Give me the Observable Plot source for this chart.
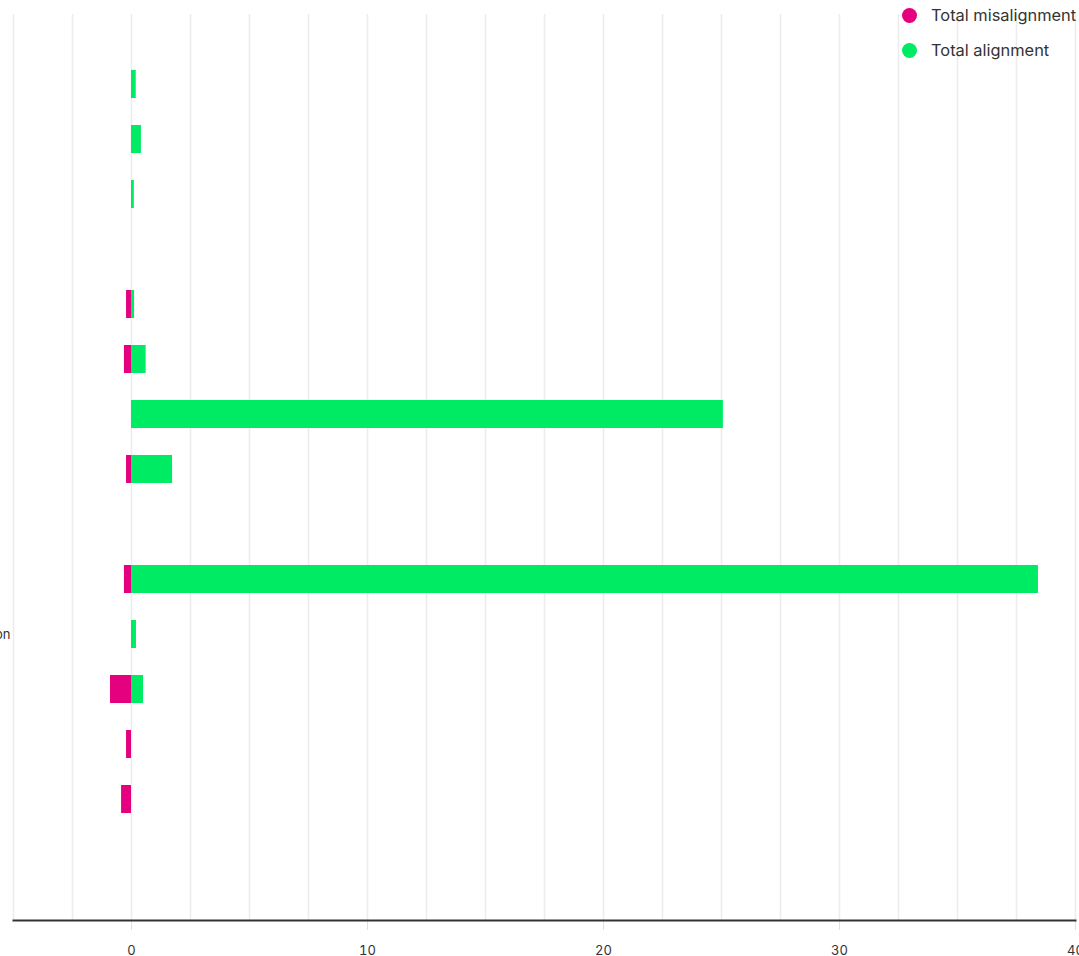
<!DOCTYPE html>
<html>
<head>
<meta charset="utf-8">
<script src="https://cdn.jsdelivr.net/npm/d3@7"></script>
<script src="https://cdn.jsdelivr.net/npm/@observablehq/plot@0.6"></script>
<style>
  html, body { margin: 0; padding: 0; background: #fff; }
  body { width: 1079px; height: 956px; overflow: hidden; position: relative; font-family: Inter, "Noto Sans", sans-serif; }
  #chart { position: absolute; left: 0; top: 0; }
  .legend { position: absolute; left: 902px; top: 0; font-size: 16.4px; color: #333; }
  .legend .item { position: absolute; left: 0; white-space: nowrap; display: flex; align-items: center; height: 20px; }
  .legend .dot { width: 15px; height: 15px; border-radius: 50%; margin-right: 14px; }
</style>
</head>
<body>
<div id="chart"></div>
<div class="legend">
  <div class="item" style="top:5px"><span class="dot" style="background:#e4007f"></span><span>Total misalignment</span></div>
  <div class="item" style="top:40px"><span class="dot" style="background:#00eb64"></span><span>Total alignment</span></div>
</div>
<script>
// Data
const categories = ["r1","r2","r3","r4","r5","r6","r7","r8","r9","r10","r11","r12","r13","r14"];
const visibleLabels = ["","","","","","","","","","","on","","",""];
const misalignment = [0, 0, 0, 0, -0.21, -0.3, 0, -0.21, 0, -0.3, 0, -0.89, -0.21, -0.42];
const alignment    = [0.2, 0.42, 0.12, 0, 0.13, 0.62, 25.08, 1.74, 0, 38.43, 0.21, 0.51, 0, 0];
const seriesNames = ["Total misalignment", "Total alignment"];
const seriesColors = ["#e4007f", "#00eb64"];
const gridTicks = d3.range(-5, 40.01, 2.5);
const labelTicks = [0, 10, 20, 30, 40];

const rows = [];
categories.forEach((c, i) => {
  rows.push({cat: c, series: seriesNames[0], value: misalignment[i]});
  rows.push({cat: c, series: seriesNames[1], value: alignment[i]});
});
const labelRows = categories.map((c, i) => ({cat: c, label: visibleLabels[i]})).filter(d => d.label);

const chart = Plot.plot({
  width: 1079,
  height: 956,
  marginLeft: 13,
  marginRight: 4,
  marginTop: 14,
  marginBottom: 36,
  style: {fontFamily: "Inter, 'Noto Sans', sans-serif", fontSize: "13px", color: "#333", background: "#fff", overflow: "visible"},
  x: {domain: [-5, 40], axis: null},
  y: {domain: categories, range: [69, 813], paddingInner: 0.5, paddingOuter: 0, axis: null},
  color: {domain: seriesNames, range: seriesColors},
  marks: [
    Plot.gridX(gridTicks, {stroke: "#ececec", strokeOpacity: 1, strokeWidth: 1.5}),
    Plot.axisX(labelTicks, {tickSize: 10, stroke: "#e0e0e0", tickPadding: 15, fill: "#333", fontSize: 13, anchor: "bottom", label: null}),
    Plot.frame({anchor: "bottom", stroke: "#333", strokeWidth: 2}),
    Plot.barX(rows, {y: "cat", x: "value", fill: "series"}),
    Plot.text(labelRows, {y: "cat", frameAnchor: "left", text: "label", textAnchor: "end", dx: -3, fill: "#333", fontSize: 13})
  ]
});
document.getElementById("chart").appendChild(chart);
</script>
</body>
</html>
